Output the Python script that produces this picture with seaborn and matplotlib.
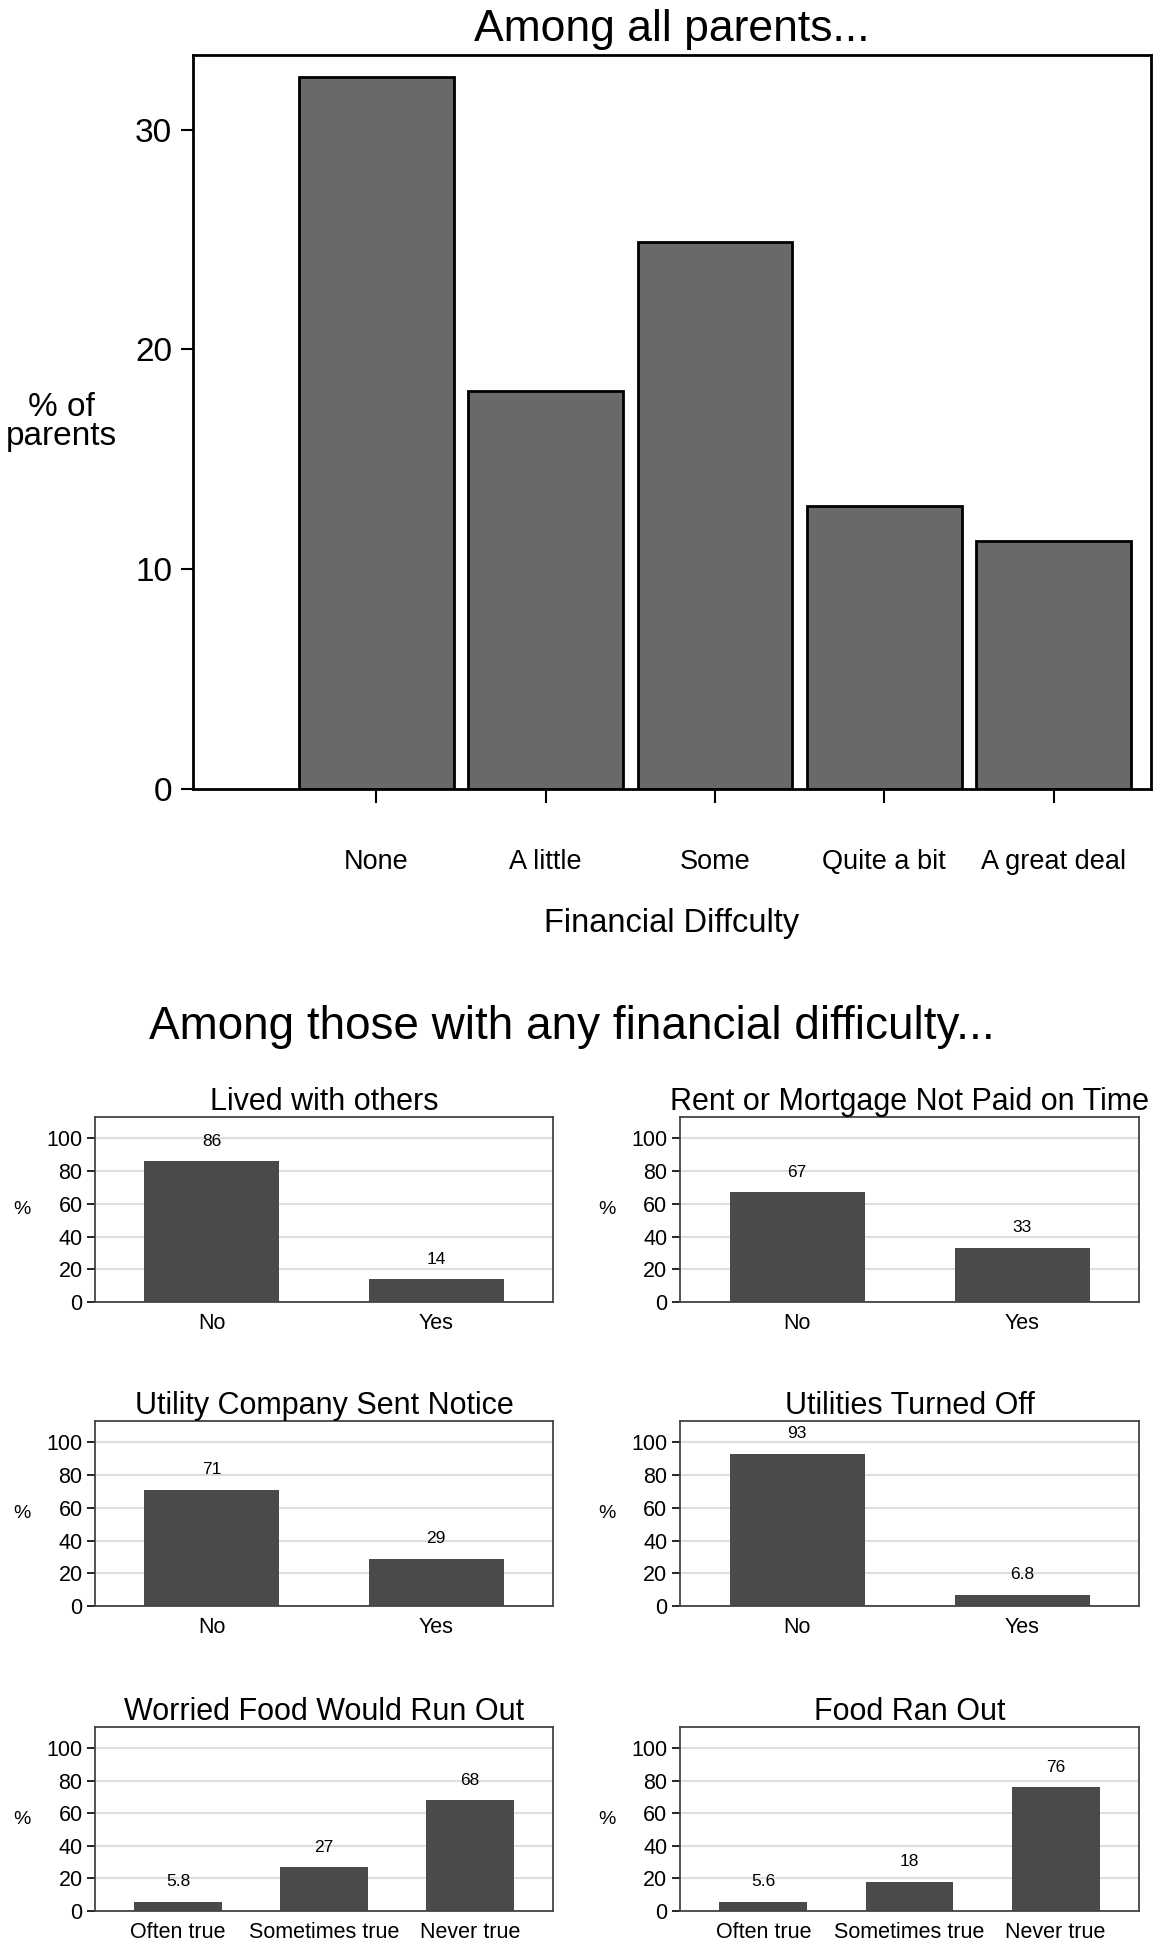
import numpy as np
import pandas as pd
import seaborn as sns
import matplotlib.pyplot as plt

# Data
difficulty_levels = ["None", "A little", "Some", "Quite a bit", "A great deal"]
difficulty_pct = [32.4, 18.1, 24.9, 12.9, 11.3]

yes_no = ["No", "Yes"]
freq_levels = ["Often true", "Sometimes true", "Never true"]

lived_with_others = [86, 14]
rent_late = [67, 33]
utility_notice = [71, 29]
utilities_off = [93, 6.8]
worried_food = [5.8, 27, 68]
food_ran_out = [5.6, 18, 76]

panel_titles = ["Lived with others", "Rent or Mortgage Not Paid on Time",
                "Utility Company Sent Notice", "Utilities Turned Off",
                "Worried Food Would Run Out", "Food Ran Out"]
panel_cats = [yes_no, yes_no, yes_no, yes_no, freq_levels, freq_levels]
panel_vals = [lived_with_others, rent_late, utility_notice, utilities_off,
              worried_food, food_ran_out]

sns.set_style("white")
plt.rcParams['font.family'] = ['Liberation Sans', 'DejaVu Sans']
plt.rcParams.update({"text.color": "black", "axes.labelcolor": "black",
                     "xtick.color": "black", "ytick.color": "black"})

W, H = 1156, 1950
fig = plt.figure(figsize=(W / 100, H / 100), dpi=100)


def px_axes(left, top, right, bottom):
    # place an axes using pixel edges of the figure
    return fig.add_axes([left / W, 1 - bottom / H, (right - left) / W, (bottom - top) / H])


# Top chart: all parents
ax = px_axes(193, 55, 1151, 789)
sns.barplot(x=difficulty_levels, y=difficulty_pct, color="#696969", saturation=1,
            width=0.915, edgecolor="black", linewidth=2, ax=ax)
ax.set_xlim(-1.083, 4.575)
ax.set_ylim(0, 33.4)
ax.set_yticks([0, 10, 20, 30])
for s in ax.spines.values():
    s.set_color("black")
    s.set_linewidth(2)
ax.tick_params(axis="y", direction="out", length=9, width=1.5, labelsize=24, left=True, pad=6)
ax.tick_params(axis="x", direction="out", length=10, width=1.5, labelsize=19.5, bottom=True, pad=33)
ax.set_title("Among all parents...", fontsize=32, pad=10)
ax.set_xlabel("Financial Diffculty", fontsize=23.5, labelpad=24)
ax.set_ylabel("% of\nparents", fontsize=24, rotation=0, ha="center", va="center",
              linespacing=0.95)
ax.yaxis.set_label_coords(-0.137, 0.5)

fig.text(572 / W, 1 - 1027 / H, "Among those with any financial difficulty...",
         fontsize=33, ha="center", va="center")

# Small panels
col_x = [(95, 553), (680, 1139)]
row_y = [(1117, 1302), (1421, 1606), (1727, 1911)]

for i, (title, cats, vals) in enumerate(zip(panel_titles, panel_cats, panel_vals)):
    r, c = divmod(i, 2)
    a = px_axes(col_x[c][0], row_y[r][0], col_x[c][1], row_y[r][1])
    a.set_axisbelow(True)
    a.grid(axis="y", color="#dedede", linewidth=1.5)
    sns.barplot(x=cats, y=vals, color="#4a4a4a", saturation=1, width=0.6,
                linewidth=0, ax=a)
    a.bar_label(a.containers[0], labels=[f"{v:g}" for v in vals],
                padding=9, fontsize=12.5)
    n = len(cats)
    a.set_xlim(-0.52 - 0.05 * (n - 2), n - 1 + 0.52 + 0.05 * (n - 2))
    a.set_ylim(0, 113)
    a.set_yticks(range(0, 101, 20))
    for s in a.spines.values():
        s.set_color("#444444")
        s.set_linewidth(1.3)
    a.tick_params(axis="y", direction="out", length=6, width=1.2, labelsize=15.5,
                  left=True, pad=3)
    a.tick_params(axis="x", length=0, labelsize=15.5, pad=8)
    a.set_title(title, fontsize=22, pad=5)
    a.set_ylabel("%", fontsize=14, rotation=0, ha="center", va="center")
    a.yaxis.set_label_coords(-0.159, 0.5)

fig.savefig("out.png", dpi=100)
